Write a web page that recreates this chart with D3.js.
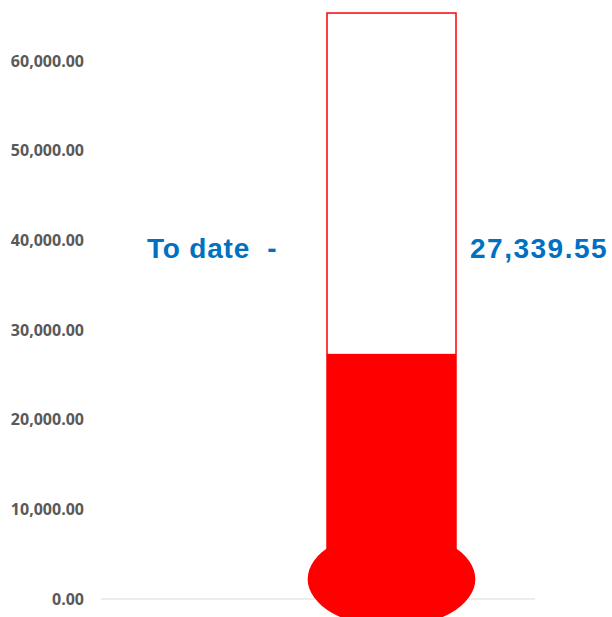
<!DOCTYPE html>
<html lang="en">
<head>
    <meta charset="UTF-8">
    <title>Thermometer Chart</title>
    <script src="https://d3js.org/d3.v7.min.js"></script>
    <style>
        body { margin: 0; background: #fff; }
    </style>
</head>
<body>
<div id="chart"></div>
<script>
    // Chart data
    var categories = ["To date"];
    var raised = [27339.55];
    var target = [65350];
    var tickValues = [0, 10000, 20000, 30000, 40000, 50000, 60000];

    var width = 612, height = 617;

    var svg = d3.select("#chart")
                .append("svg")
                .attr("width", width)
                .attr("height", height);

    var y = d3.scaleLinear()
              .domain([0, 60000])
              .range([599, 61]);

    var x = d3.scaleBand()
              .domain(categories)
              .range([327, 456])
              .padding(0);

    // Baseline
    svg.append("line")
       .attr("x1", 101)
       .attr("x2", 535)
       .attr("y1", y(0))
       .attr("y2", y(0))
       .attr("stroke", "#d9d9d9")
       .attr("stroke-width", 1);

    // Y axis labels (no axis line)
    var yAxis = d3.axisLeft(y)
                  .tickValues(tickValues)
                  .tickSize(0)
                  .tickPadding(0)
                  .tickFormat(d3.format(",.2f"));

    var gy = svg.append("g")
                .attr("transform", "translate(84,0)")
                .call(yAxis);
    gy.select(".domain").remove();
    gy.selectAll("text")
      .attr("fill", "#595959")
      .style("font-family", "'Open Sans', sans-serif")
      .style("font-weight", "700")
      .style("font-size", "16px");

    // Tube outline
    svg.selectAll(".tube")
       .data(categories)
       .enter().append("rect")
       .attr("class", "tube")
       .attr("x", function(d) { return x(d); })
       .attr("y", function(d, i) { return y(target[i]); })
       .attr("width", x.bandwidth())
       .attr("height", function(d, i) { return y(0) - y(target[i]); })
       .attr("fill", "#fff")
       .attr("stroke", "#ff0000")
       .attr("stroke-width", 1.5);

    // Fill
    svg.selectAll(".bar")
       .data(categories)
       .enter().append("rect")
       .attr("class", "bar")
       .attr("x", function(d) { return x(d); })
       .attr("y", function(d, i) { return y(raised[i]); })
       .attr("width", x.bandwidth())
       .attr("height", function(d, i) { return y(0) - y(raised[i]); })
       .attr("fill", "#ff0000");

    // Bulb
    svg.selectAll(".bulb")
       .data(categories)
       .enter().append("ellipse")
       .attr("class", "bulb")
       .attr("cx", function(d) { return x(d) + x.bandwidth() / 2; })
       .attr("cy", y(0) - 20)
       .attr("rx", x.bandwidth() * 0.65)
       .attr("ry", 48)
       .attr("fill", "#ff0000");

    // Labels
    svg.append("text")
       .attr("x", 147)
       .attr("y", 258)
       .attr("fill", "#0070c0")
       .style("font-family", "'Liberation Sans', Arial, sans-serif")
       .style("font-weight", "700")
       .style("font-size", "28px")
       .style("letter-spacing", "0.8px")
       .style("white-space", "pre")
       .text(categories[0] + "  -");

    svg.append("text")
       .attr("x", 470)
       .attr("y", 258)
       .attr("fill", "#0070c0")
       .style("font-family", "'Liberation Sans', Arial, sans-serif")
       .style("font-weight", "700")
       .style("font-size", "28px")
       .style("letter-spacing", "1.5px")
       .text(d3.format(",.2f")(raised[0]));
</script>
</body>
</html>
